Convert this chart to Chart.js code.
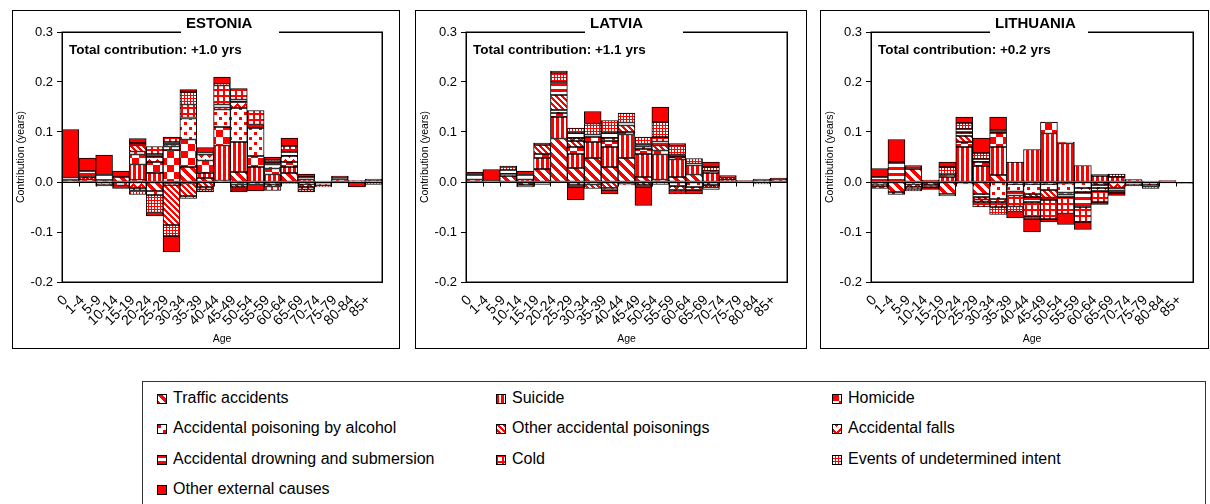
<!DOCTYPE html>
<html>
<head>
<meta charset="utf-8">
<script src="https://cdn.jsdelivr.net/npm/chart.js@4.4.1/dist/chart.umd.min.js"></script>
<style>
  body { margin: 0; background: #fff; width: 1210px; height: 504px; overflow: hidden; position: relative;
         font-family: "Liberation Sans", Arial, sans-serif; }
  .panel { position: absolute; top: 10px; height: 337px; border: 1px solid #000; background: #fff; }
  .panel canvas { display: block; }
  #legend { position: absolute; left: 142px; top: 381px; width: 1062px; height: 140px; border: 1px solid #333; }
  .item { position: absolute; height: 20px; line-height: 20px; font-size: 16px; color: #000; white-space: nowrap; }
  .item canvas { display: inline-block; vertical-align: -1px; margin-right: 6px; }
</style>
</head>
<body>
<div class="panel" id="p0"><canvas id="c0"></canvas></div>
<div class="panel" id="p1"><canvas id="c1"></canvas></div>
<div class="panel" id="p2"><canvas id="c2"></canvas></div>
<div id="legend"></div>

<script>
const AGE_GROUPS = ['0', '1-4', '5-9', '10-14', '15-19', '20-24', '25-29', '30-34', '35-39', '40-44',
  '45-49', '50-54', '55-59', '60-64', '65-69', '70-74', '75-79', '80-84', '85+'];
const CAUSES = ['Traffic accidents', 'Suicide', 'Homicide', 'Accidental poisoning by alcohol',
  'Other accidental poisonings', 'Accidental falls', 'Accidental drowning and submersion', 'Cold',
  'Events of undetermined intent', 'Other external causes'];
const Y_TICKS = [-0.2, -0.1, 0.0, 0.1, 0.2, 0.3];

// Estonia, contribution by age (years)
const estTraffic   = [.003,.004,.003,.010,.004,-.018,-.003,.030,.008,.003,.020,-.005,-.004,.018,-.004,0,0,0,0];
const estSuicide   = [0,0,0,0,.031,.018,-.003,-.003,.010,.070,.060,.030,.015,.012,.005,0,0,0,0];
const estHomicide  = [0,0,0,0,.020,.022,.064,.055,.025,.037,-.005,.022,.012,.010,0,0,0,0,0];
const estAlcohol   = [0,0,0,-.007,.006,-.008,.007,.042,0,.035,.068,.056,.008,0,0,0,0,0,0];
const estOtherPois = [0,0,0,0,.012,0,-.080,-.025,-.010,.004,-.005,0,0,0,0,0,0,0,0];
const estFalls     = [0,.006,-.004,0,-.012,.010,.004,-.005,.012,0,.012,0,-.005,.012,-.006,0,.004,.003,.003];
const estDrowning  = [.006,.012,.012,-.006,.005,.006,.005,.002,.004,.006,.005,.007,.005,.008,.005,-.004,.004,0,0];
const estCold      = [0,0,-.004,0,-.005,.015,.010,.026,-.005,.038,.022,.028,-.008,.012,-.005,-.003,-.002,0,-.002];
const estUndet     = [0,0,0,0,-.008,-.035,-.022,.025,-.005,.003,-.005,0,.004,-.003,-.005,-.003,0,0,-.003];
const estOther     = [.096,.026,.039,.012,.009,-.007,-.032,.005,.010,.014,-.005,-.013,.006,.016,.006,.002,.004,-.010,.003];

// Latvia
const latTraffic   = [.005,0,.012,-.006,.026,.087,.028,.048,.030,.048,.010,.005,.010,.015,0,0,0,0,0];
const latSuicide   = [0,0,0,.005,.022,.043,.028,.032,.040,.047,.046,.050,.035,.018,.018,.004,0,0,0];
const latHomicide  = [0,0,0,0,.008,.008,.014,.010,.012,.005,.010,.008,.005,0,.004,0,0,0,0];
const latAlcohol   = [0,0,0,-.004,0,.006,-.006,-.005,.006,-.003,.005,0,-.008,-.010,-.006,0,0,0,0];
const latOtherPois = [0,0,0,0,.018,.030,.012,-.008,-.012,.013,-.006,.010,0,0,0,0,0,0,0];
const latFalls     = [0,0,.004,0,0,0,.006,0,-.004,-.003,0,-.005,-.008,-.006,-.005,.005,0,.003,.004];
const latDrowning  = [.010,.003,.008,.010,-.005,.026,.010,.005,.010,.006,.004,.008,.005,.004,-.004,0,-.002,0,0];
const latCold      = [0,0,0,0,0,0,-.004,0,0,0,-.004,.009,-.008,0,0,0,0,0,0];
const latUndet     = [0,0,.008,0,0,.018,.010,.022,.025,.019,.015,.030,.018,.010,.008,.004,0,-.004,0];
const latOther     = [.005,.022,0,.007,.004,.004,-.026,.024,-.008,0,-.037,.030,.004,-.008,.010,0,.003,.003,.004];

// Lithuania
const litTraffic   = [-.004,-.020,.026,-.006,-.024,-.004,-.024,.014,-.004,-.004,-.004,-.003,0,-.006,0,0,0,0,0];
const litSuicide   = [-.004,0,0,0,.010,.070,.032,.056,.040,.065,.097,.077,.033,.012,.010,0,0,0,0];
const litHomicide  = [0,0,0,0,.004,.010,.008,.028,0,0,.023,.003,0,0,0,0,0,0,0];
const litAlcohol   = [0,-.005,-.004,0,0,0,-.006,-.034,-.015,-.020,-.012,-.018,-.012,-.006,0,0,0,0,0];
const litOtherPois = [0,0,0,-.004,0,.012,-.005,0,0,-.006,-.015,0,0,0,0,0,0,0,0];
const litFalls     = [-.005,0,-.006,0,0,.006,-.005,-.006,0,0,0,-.004,-.008,-.006,-.012,.005,-.006,0,-.003];
const litDrowning  = [.010,.040,.004,.004,-.004,.008,.006,.006,-.008,-.010,-.005,-.005,-.030,.003,-.005,-.004,0,.003,0];
const litCold      = [0,0,-.004,0,0,0,-.010,-.010,-.022,-.030,-.038,-.033,-.030,-.022,-.005,-.004,-.003,0,0];
const litUndet     = [0,0,-.004,0,.016,.012,.012,-.015,-.010,-.004,0,0,0,0,.006,0,-.004,0,0];
const litOther     = [.017,.045,.003,-.005,.010,.012,.030,.026,-.013,-.026,-.006,-.022,-.015,-.005,-.005,0,.002,-.002,.001];

const estonia = [estTraffic, estSuicide, estHomicide, estAlcohol, estOtherPois, estFalls, estDrowning, estCold, estUndet, estOther];
const latvia = [latTraffic, latSuicide, latHomicide, latAlcohol, latOtherPois, latFalls, latDrowning, latCold, latUndet, latOther];
const lithuania = [litTraffic, litSuicide, litHomicide, litAlcohol, litOtherPois, litFalls, litDrowning, litCold, litUndet, litOther];

// red-on-white fill patterns, one per cause (same order as CAUSES)
function makeTile(size, isRed) {
  const c = document.createElement("canvas");
  c.width = size;
  c.height = size;
  const g = c.getContext("2d");
  const img = g.createImageData(size, size);
  for (let y = 0; y < size; y++) {
    for (let x = 0; x < size; x++) {
      const k = (y * size + x) * 4;
      const red = isRed(x, y);
      img.data[k] = 255;
      img.data[k + 1] = red ? 0 : 255;
      img.data[k + 2] = red ? 0 : 255;
      img.data[k + 3] = 255;
    }
  }
  g.putImageData(img, 0, 0);
  return c;
}

const tiles = [
  makeTile(10, (x, y) => (x - y + 10) % 10 < 5),                                  // traffic
  makeTile(5, (x, y) => x < 3),                                                    // suicide
  makeTile(14, (x, y) => (Math.floor(x / 7) + Math.floor(y / 7)) % 2 === 0),       // homicide
  makeTile(10, (x, y) => (x >= 1 && x < 4 && y >= 1 && y < 4) || (x >= 6 && x < 9 && y >= 6 && y < 9)), // alcohol
  makeTile(6, (x, y) => (x - y + 6) % 6 < 3),                                      // other poisonings
  makeTile(8, (x, y) => (y + Math.abs(x - 4)) % 8 < 3),                            // falls
  makeTile(6, (x, y) => y < 3),                                                    // drowning
  makeTile(6, (x, y) => x < 2 || y < 2),                                           // cold
  makeTile(3, (x, y) => x === 0 || y === 0),                                       // undetermined
  makeTile(2, () => true),                                                         // other
];
const patCtx = document.createElement("canvas").getContext("2d");
const patterns = tiles.map((t) => patCtx.createPattern(t, "repeat"));

const panels = [
  { left: 12, width: 388, plotLeft: 49, padRight: 17, title: "ESTONIA", total: "Total contribution: +1.0 yrs", data: estonia, yTitleX: 8 },
  { left: 415, width: 392, plotLeft: 50, padRight: 19, title: "LATVIA", total: "Total contribution: +1.1 yrs", data: latvia, yTitleX: 9 },
  { left: 820, width: 389, plotLeft: 50, padRight: 15, title: "LITHUANIA", total: "Total contribution: +0.2 yrs", data: lithuania, yTitleX: 9 },
];

const panelDecor = {
  id: "panelDecor",
  afterDatasetsDraw(chart, args, opts) {
    const { ctx, chartArea: a, scales } = chart;
    ctx.save();
    ctx.strokeStyle = "#000";

    // category axis at zero with ticks between age groups
    ctx.lineWidth = 1;
    const y0 = Math.round(scales.y.getPixelForValue(0)) + 0.5;
    const step = (a.right - a.left) / AGE_GROUPS.length;
    ctx.beginPath();
    ctx.moveTo(a.left, y0);
    ctx.lineTo(a.right, y0);
    for (let i = 1; i < AGE_GROUPS.length; i++) {
      const x = Math.round(a.left + i * step) + 0.5;
      ctx.moveTo(x, y0);
      ctx.lineTo(x, y0 + 4);
    }
    ctx.stroke();

    // plot frame
    ctx.lineWidth = 1.5;
    ctx.strokeRect(Math.round(a.left) + 0.25, Math.round(a.top) + 0.25, Math.round(a.right - a.left), Math.round(a.bottom - a.top));

    // title sits in a gap of the top frame line
    ctx.fillStyle = "#fff";
    ctx.fillRect(a.left + 119, a.top - 4, 98, 6);
    ctx.fillStyle = "#000";
    ctx.font = "bold 15px 'Liberation Sans', Arial, sans-serif";
    ctx.textAlign = "left";
    ctx.textBaseline = "alphabetic";
    ctx.fillText(opts.title, a.left + 124, a.top - 4);

    ctx.font = "bold 13.5px 'Liberation Sans', Arial, sans-serif";
    ctx.textBaseline = "middle";
    ctx.fillText(opts.total, a.left + 7, a.top + 18);

    ctx.font = "10.5px 'Liberation Sans', Arial, sans-serif";
    ctx.textAlign = "center";
    ctx.fillText("Age", (a.left + a.right) / 2, 328);

    ctx.translate(opts.yTitleX, (a.top + a.bottom) / 2);
    ctx.rotate(-Math.PI / 2);
    ctx.fillText("Contribution (years)", 0, 0);
    ctx.restore();
  },
};

panels.forEach((p, n) => {
  const canvas = document.getElementById("c" + n);
  const box = document.getElementById("p" + n);
  box.style.left = p.left + "px";
  box.style.width = p.width - 2 + "px";
  canvas.width = p.width - 2;
  canvas.height = 337;

  const datasets = CAUSES.map((cause, i) => ({
    label: cause,
    data: p.data[i],
    backgroundColor: patterns[i],
    borderColor: "#000",
    borderWidth: 1,
    borderSkipped: false,
    barPercentage: 1,
    categoryPercentage: 1,
  }));

  new Chart(canvas.getContext("2d"), {
    type: "bar",
    data: { labels: AGE_GROUPS, datasets: datasets },
    options: {
      responsive: false,
      animation: false,
      devicePixelRatio: 1,
      layout: { padding: { left: 0, top: 21, right: p.padRight, bottom: 0 } },
      plugins: {
        legend: { display: false },
        tooltip: { enabled: false },
        panelDecor: { title: p.title, total: p.total, yTitleX: p.yTitleX },
      },
      scales: {
        x: {
          stacked: true,
          grid: { display: false, drawTicks: false },
          border: { display: false },
          ticks: {
            autoSkip: false,
            minRotation: 45,
            maxRotation: 45,
            padding: 10,
            labelOffset: -5,
            color: "#000",
            font: { family: "'Liberation Sans', Arial, sans-serif", size: 14 },
          },
          afterFit: (scale) => { scale.height = 66; },
        },
        y: {
          stacked: true,
          min: Y_TICKS[0],
          max: Y_TICKS[Y_TICKS.length - 1],
          grid: { drawOnChartArea: false, drawTicks: true, tickLength: 5, color: "#000" },
          border: { display: false },
          ticks: {
            stepSize: 0.1,
            padding: 4,
            color: "#000",
            font: { family: "'Liberation Sans', Arial, sans-serif", size: 13 },
            callback: (v) => v.toFixed(1),
          },
          afterFit: (scale) => { scale.width = p.plotLeft; },
        },
      },
    },
    plugins: [panelDecor],
  });
});

// legend, three columns filled row by row
const legend = document.getElementById("legend");
const colX = [14, 353, 689];
const rowY = [16, 46, 77, 107];
CAUSES.forEach((cause, i) => {
  const item = document.createElement("div");
  item.className = "item";
  item.style.left = colX[i % 3] + "px";
  item.style.top = rowY[Math.floor(i / 3)] - 10 + "px";
  const icon = document.createElement("canvas");
  icon.width = 10;
  icon.height = 10;
  const g = icon.getContext("2d");
  g.fillStyle = patterns[i];
  g.fillRect(0, 0, 10, 10);
  g.strokeStyle = "#000";
  g.strokeRect(0.5, 0.5, 9, 9);
  item.appendChild(icon);
  item.appendChild(document.createTextNode(cause));
  legend.appendChild(item);
});
</script>
</body>
</html>
